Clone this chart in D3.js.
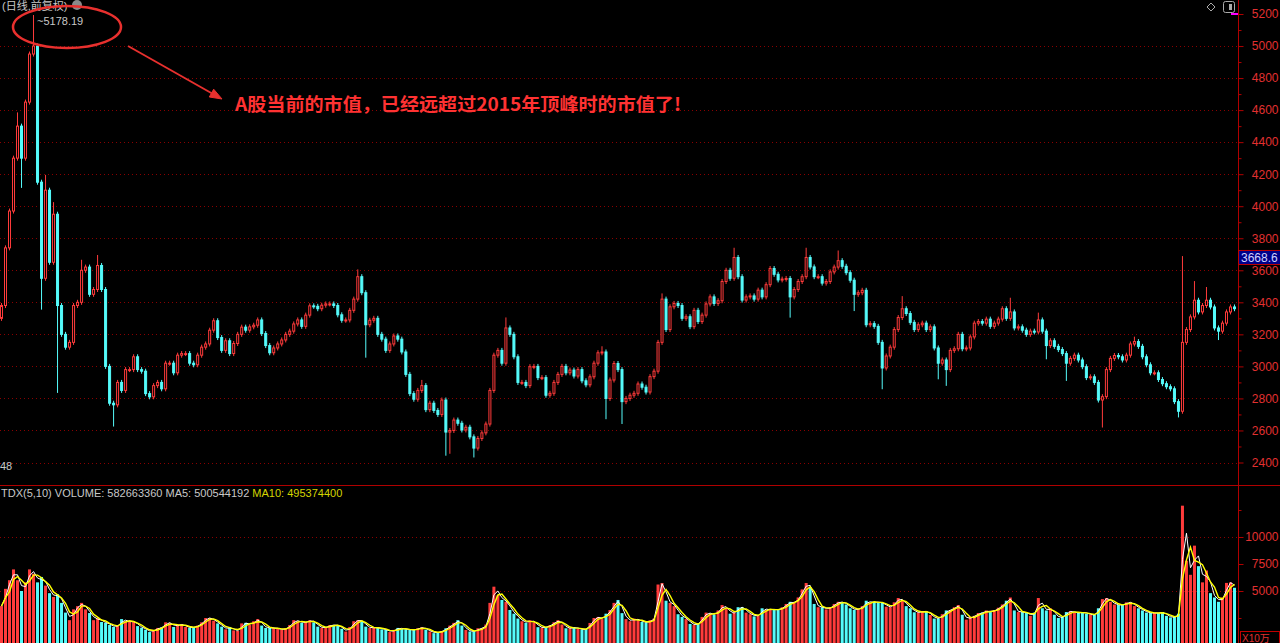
<!DOCTYPE html>
<html><head><meta charset="utf-8">
<script src="https://cdn.jsdelivr.net/npm/d3@7"></script>
<style>html,body{margin:0;padding:0;background:#000;overflow:hidden}svg{display:block}</style>
</head><body><svg id="c" width="1280" height="643"></svg>
<script>
// ---- data (one candle ≈ one trading week) ----
const closes = [
3380,3740,3970,4300,4500,4300,4650,4950,5000,4150,
3550,4100,3650,3950,3380,3200,3120,3150,3380,3400,
3600,3620,3450,3480,3630,3480,3000,2770,2760,2900,
2850,2980,2980,3060,2980,2970,2830,2810,2880,2900,
2860,3020,3020,2960,3070,3080,3080,3020,3010,3070,
3120,3140,3226,3285,3180,3100,3160,3080,3143,3200,
3245,3226,3247,3257,3290,3205,3130,3085,3115,3140,
3165,3200,3220,3265,3290,3250,3320,3378,3375,3360,
3382,3390,3390,3380,3322,3288,3290,3350,3420,3560,
3460,3260,3288,3300,3200,3170,3100,3140,3190,3170,
3090,2950,2830,2795,2850,2880,2730,2770,2725,2700,
2790,2590,2600,2665,2645,2603,2620,2560,2490,2550,
2585,2640,2850,3070,3100,3020,3240,3200,3060,2900,
2900,2880,2998,3000,2930,2930,2820,2832,2900,2950,
3000,2960,2977,2940,2980,2910,2885,2935,3020,3085,
3090,2800,2915,3018,2980,2780,2800,2820,2832,2890,
2870,2840,2936,2970,3150,3420,3230,3372,3393,3380,
3300,3310,3248,3350,3280,3320,3390,3434,3393,3410,
3530,3600,3550,3680,3560,3414,3434,3440,3420,3476,
3434,3510,3611,3575,3540,3545,3549,3434,3480,3530,
3560,3680,3621,3560,3560,3520,3530,3590,3620,3660,
3625,3585,3538,3450,3460,3475,3260,3267,3250,3150,
2990,3065,3120,3230,3305,3360,3330,3275,3230,3260,
3270,3230,3247,3115,3020,3040,2980,3100,3110,3200,
3110,3115,3184,3270,3280,3270,3295,3250,3270,3295,
3360,3300,3340,3240,3247,3226,3200,3220,3215,3290,
3220,3130,3160,3125,3105,3080,3020,3050,3070,3040,
2998,2930,2935,2900,2790,2811,2980,3050,3068,3060,
3040,3070,3140,3155,3125,3060,3010,2960,2960,2918,
2892,2873,2860,2780,2720,3150,3230,3309,3413,3340,
3380,3413,3371,3240,3220,3270,3340,3371,3360];
const firstOpen = 3300;
const volumes = [
3600,5200,6000,7000,6000,5000,5800,7000,6600,5800,
6300,5500,4800,4450,4700,3900,3000,2300,3300,3600,
3900,3300,2960,2300,2500,2130,2050,1850,1670,1800,
2400,2200,2130,2200,1750,1600,1420,1200,1400,1580,
1620,2100,2040,1670,1900,1900,1670,1580,1670,1800,
2100,2500,2500,2250,2000,1700,1450,1670,1350,1300,
2000,2050,1850,2200,2400,1800,1580,1580,1580,1500,
1400,1550,1850,2300,2200,2050,2130,2300,2100,1700,
1580,1650,1850,1850,1800,1500,1250,1670,2200,2300,
2200,1700,1580,1600,1620,1450,1400,1200,1400,1580,
1500,1450,1400,1400,1550,1650,1420,1250,1100,1200,
1300,1550,1800,2050,2300,1800,1400,1250,1250,1550,
1550,1900,3900,5400,4600,4170,4000,3240,2900,2450,
2200,2050,2300,2100,1650,1600,1670,1850,2100,2300,
1900,1550,1550,1650,1500,1400,1500,2040,2500,2600,
2400,2900,3240,3900,4170,2950,2400,2200,2450,2300,
2130,2040,2300,2450,5600,5740,4100,3900,3600,2850,
2600,2400,1950,1850,2000,2600,3000,2900,2780,3200,
3700,3400,2900,3000,3500,3500,3000,2850,2650,2750,
3400,3240,3300,3300,3240,3500,3800,4000,3900,4400,
5150,5740,5300,3800,3500,3500,3300,3500,3800,4000,
3950,3750,3400,3240,3350,3600,4100,3900,4000,3950,
3900,3550,3500,3950,4350,4100,3600,3400,3030,3000,
3150,3080,2780,2450,2450,2850,3200,3240,3500,3700,
2800,2350,2600,2700,2960,3000,3200,3050,3240,3450,
3750,4100,4400,3200,3050,3050,2960,2700,3000,4350,
3400,3200,3400,2800,2500,2600,3050,3150,2980,2960,
3050,2900,2780,2780,3400,4250,4350,4000,3750,3700,
3700,3950,3950,3600,3400,3200,3000,2960,2960,2960,
3050,2700,2550,2600,2900,12900,7800,6500,9200,7300,
5800,6900,4800,4400,4000,4400,5750,5800,5300];
// sparse wick extremes: [candle index, price]
const wickHighs = [[4,4570],[8,5178],[9,4750],[11,4180],[13,4010],[20,3650],[24,3680],[89,3590],[105,2900],[126,3290],[150,3110],[165,3440],[183,3725],[201,3725],[209,3708],[225,3423],[252,3413],[259,3320],[283,3170],[295,3673],[298,3517],[301,3480]];
const wickLows = [[5,4130],[10,3370],[14,2850],[28,2640],[91,3070],[111,2458],[112,2470],[118,2447],[151,2686],[155,2656],[197,3320],[213,3361],[220,2873],[234,2935],[236,2894],[261,3060],[266,2925],[275,2634],[294,2697],[304,3180]];
const priceTicks = [2400,2600,2800,3000,3200,3400,3600,3800,4000,4200,4400,4600,4800,5000,5200];
const priceMinor = [2500,2700,2900,3100,3300,3500,3700,3900,4100,4300,4500,4700,4900,5100];
const priceGrid = [2400,2600,2800,3000,3200,3400,3600,3800,4000,4200,4400,4600,4800,5000];
const volTicks = [5000,7500,10000];
const volMinor = [2500,12500];
const volGrid = [5000,10000];
const peakLabel = "~5178.19";
const lastLabel = "3668.6";
const titleText = "(日线,前复权)";
const noteText = "A股当前的市值，已经远超过2015年顶峰时的市值了!";
const legendParts = [["TDX(5,10) VOLUME: 582663360 ","#c8c8c8"],["MA5: 500544192 ","#c8c8c8"],["MA10: 495374400","#d4d400"]];

// ---- build ----
const svg = d3.select("#c");
const W = 1280, H = 643, AX = 1238;
const UP = "#ff3b3b", DOWN = "#55fbfb", AXC = "#b00000", LBL = "#e23030", GRID = "#8a0000";
svg.append("rect").attr("width",W).attr("height",H).attr("fill","#000");

const n = closes.length;
const data = closes.map((c,i)=>{
  const o = i===0 ? firstOpen : closes[i-1];
  return {i, o, c, h: Math.max(o,c), l: Math.min(o,c), v: volumes[i]};
});
wickHighs.forEach(([i,v])=>{ data[i].h = Math.max(data[i].h, v); });
wickLows.forEach(([i,v])=>{ data[i].l = Math.min(data[i].l, v); });

const x = d3.scaleBand().domain(d3.range(n)).range([0, AX-2]).paddingInner(0.25);
const yP = d3.scaleLinear().domain([2400,5200]).range([462.5,14]);
const yV = d3.scaleLinear().domain([0,10000]).range([645,537]);

// grids
const g = svg.append("g");
g.selectAll(".pg").data(priceGrid).join("line")
  .attr("x1",0).attr("x2",AX).attr("y1",d=>Math.round(yP(d))+0.5).attr("y2",d=>Math.round(yP(d))+0.5)
  .attr("stroke",GRID).attr("stroke-dasharray","1,3");
g.selectAll(".vg").data(volGrid).join("line")
  .attr("x1",0).attr("x2",AX).attr("y1",d=>Math.round(yV(d))+0.5).attr("y2",d=>Math.round(yV(d))+0.5)
  .attr("stroke",GRID).attr("stroke-dasharray","1,3");

// separator
svg.append("line").attr("x1",0).attr("x2",W).attr("y1",485.5).attr("y2",485.5).attr("stroke",AXC).attr("stroke-width",1.2);

// candles
const bw = x.bandwidth();
svg.append("clipPath").attr("id","pclip").append("rect").attr("x",0).attr("y",0).attr("width",AX).attr("height",485);
const cg = svg.append("g").attr("clip-path","url(#pclip)");
cg.selectAll(".wk").data(data).join("line")
  .attr("x1",d=>x(d.i)+bw/2).attr("x2",d=>x(d.i)+bw/2)
  .attr("y1",d=>yP(d.h)-2.5).attr("y2",d=>yP(d.l)+2.5)
  .attr("stroke",d=>d.c>=d.o?UP:DOWN).attr("stroke-width",1);
cg.selectAll(".bd").data(data).join("rect")
  .attr("x",d=>x(d.i)+0.5).attr("width",bw-1)
  .attr("y",d=>yP(Math.max(d.o,d.c)))
  .attr("height",d=>Math.max(1, Math.abs(yP(d.o)-yP(d.c))))
  .attr("fill",d=>d.c>=d.o?"#000":DOWN)
  .attr("stroke",d=>d.c>=d.o?UP:DOWN).attr("stroke-width",1);

// volume bars
svg.append("clipPath").attr("id","vclip").append("rect").attr("x",0).attr("y",486).attr("width",AX).attr("height",160);
const vg = svg.append("g").attr("clip-path","url(#vclip)");
vg.selectAll("rect").data(data).join("rect")
  .attr("x",d=>x(d.i)).attr("width",bw)
  .attr("y",d=>yV(d.v)).attr("height",d=>yV(0)-yV(d.v))
  .attr("fill",d=>d.c>=d.o?UP:DOWN);
function ma(k){ return data.map((d,i)=>{ const s=data.slice(Math.max(0,i-k+1),i+1); return {i, v:d3.mean(s,e=>e.v)}; }); }
const line = d3.line().x(d=>x(d.i)+bw/2).y(d=>yV(d.v));
vg.append("path").datum(ma(2)).attr("d",line).attr("fill","none").attr("stroke","#ffffff").attr("stroke-width",1);
vg.append("path").datum(ma(3)).attr("d",line).attr("fill","none").attr("stroke","#ffff00").attr("stroke-width",1.4);

// axes
function styleAxis(sel){
  sel.select(".domain").remove();
  sel.selectAll(".tick line").attr("stroke",AXC);
  sel.selectAll(".tick text").attr("fill",LBL).attr("font-family","Liberation Sans, Arial, sans-serif").attr("font-size",12)
     .attr("text-anchor","end").attr("x",40);
}
svg.append("line").attr("x1",AX+0.5).attr("x2",AX+0.5).attr("y1",0).attr("y2",H).attr("stroke",AXC);
styleAxis(svg.append("g").attr("transform",`translate(${AX+0.5},0)`)
  .call(d3.axisRight(yP).tickValues(priceTicks).tickSize(5).tickFormat(d3.format("d"))));
styleAxis(svg.append("g").attr("transform",`translate(${AX+0.5},0)`)
  .call(d3.axisRight(yP).tickValues(priceMinor).tickSize(3).tickFormat("")));
styleAxis(svg.append("g").attr("transform",`translate(${AX+0.5},0)`)
  .call(d3.axisRight(yV).tickValues(volTicks).tickSize(5).tickFormat(d3.format("d"))));
styleAxis(svg.append("g").attr("transform",`translate(${AX+0.5},0)`)
  .call(d3.axisRight(yV).tickValues(volMinor).tickSize(3).tickFormat("")));

// current price label
const lastY = yP(3680);
svg.append("rect").attr("x",AX+0.5).attr("y",lastY-7).attr("width",W-AX).attr("height",14)
  .attr("fill","#000088").attr("stroke","#c00000").attr("stroke-width",1);
svg.append("text").attr("x",AX+3).attr("y",lastY+4.5).text(lastLabel)
  .attr("fill","#d0d0ff").attr("font-family","Liberation Sans, Arial, sans-serif").attr("font-size",12);

// X10万 box
svg.append("rect").attr("x",AX+2.5).attr("y",631.5).attr("width",39).attr("height",12).attr("fill","none").attr("stroke","#c00000");
svg.append("text").attr("x",AX+4).attr("y",641.5).text("X10万").attr("fill",LBL)
  .attr("font-family","Liberation Sans, Noto Sans CJK SC, sans-serif").attr("font-size",10);

// top right icons
svg.append("path").attr("d","M1211,3 L1215,7 L1211,11 L1207,7 Z").attr("fill","none").attr("stroke","#aaa");
svg.append("rect").attr("x",1223.5).attr("y",1.5).attr("width",11).attr("height",11).attr("rx",2).attr("fill","none").attr("stroke","#aaa");
svg.append("rect").attr("x",1229).attr("y",4).attr("width",3).attr("height",6).attr("fill","#aaa");
svg.append("rect").attr("x",1231).attr("y",13).attr("width",7).attr("height",2).attr("fill","#ff00ff");

// title
const FONT = "Liberation Sans, Noto Sans CJK SC, sans-serif";
svg.append("text").attr("x",2).attr("y",10).text(titleText).attr("fill","#c8c8c8").attr("font-family",FONT).attr("font-size",11);
svg.append("circle").attr("cx",77).attr("cy",5).attr("r",5).attr("fill","#8a8a8a");

// peak label
svg.append("text").attr("x",37).attr("y",25).text(peakLabel).attr("fill","#c8c8c8").attr("font-family",FONT).attr("font-size",11);
// low label fragment
svg.append("text").attr("x",0).attr("y",470).text("48").attr("fill","#c8c8c8").attr("font-family",FONT).attr("font-size",11);

// volume legend
const lg = svg.append("text").attr("x",1).attr("y",497).attr("font-family",FONT).attr("font-size",11);
legendParts.forEach(([t,c])=>lg.append("tspan").text(t).attr("fill",c).attr("xml:space","preserve"));

// annotation
const RED = "#e8302e";
svg.append("ellipse").attr("cx",67).attr("cy",27).attr("rx",54).attr("ry",21).attr("fill","none").attr("stroke",RED).attr("stroke-width",2.5);
svg.append("line").attr("x1",128).attr("y1",46).attr("x2",213).attr("y2",94).attr("stroke",RED).attr("stroke-width",2);
svg.append("path").attr("d","M222,99 L209.3,97 L213.7,89.2 Z").attr("fill",RED).attr("stroke",RED).attr("stroke-width",1);
svg.append("text").attr("x",235).attr("y",111).text(noteText).attr("fill","#ff3232").attr("font-weight","bold")
  .attr("font-family","Noto Sans CJK SC, sans-serif").attr("font-size",18).attr("textLength",446).attr("lengthAdjust","spacingAndGlyphs");
</script></body></html>
